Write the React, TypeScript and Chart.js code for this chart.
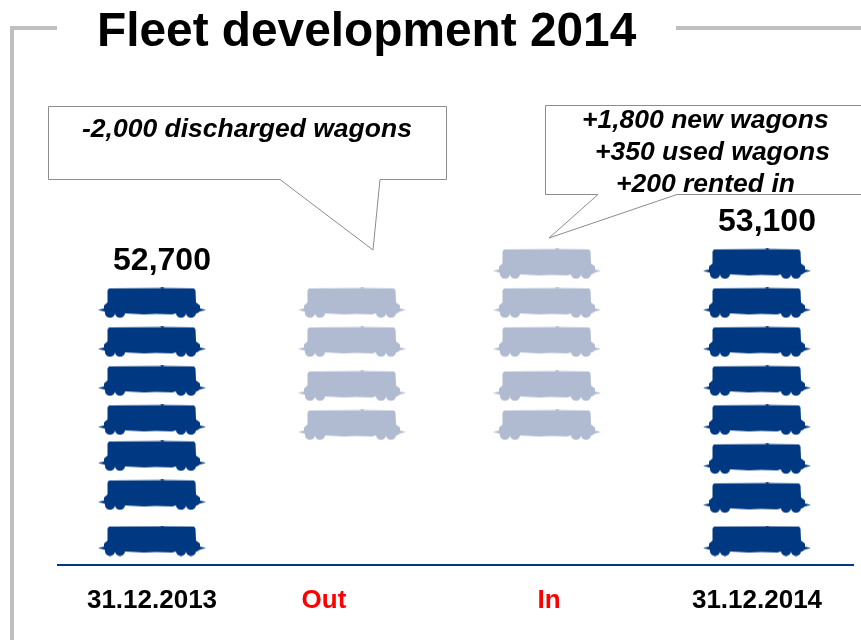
import React, { useEffect, useRef } from "react";
import { Chart, registerables } from "chart.js";

Chart.register(...registerables);

// Axis labels and where they sit along the fleet-flow axis
const tickLabels = ["31.12.2013", "Out", "In", "31.12.2014"];
const tickPositions = [0, 0.86, 1.985, 3.025];
const tickColors = ["#000000", "#ff0000", "#ff0000", "#000000"];

// Column positions of each wagon stack
const openingColumn = 0;
const outColumn = 1;
const inColumn = 1.975;
const closingColumn = 3.025;

// Stack heights of the wagon icons, in rows above the baseline
const openingRows = [0.615, 1.795, 2.795, 3.72, 4.72, 5.72, 6.72];
const outRows = [3.59, 4.59, 5.72, 6.72];
const inRows = [3.59, 4.59, 5.72, 6.72, 7.72];
const closingRows = [0.615, 1.72, 2.72, 3.72, 4.72, 5.72, 6.72, 7.72];

// Fleet totals printed above the two year-end stacks
const openingTotal = "52,700";
const closingTotal = "53,100";

const chartTitle = "Fleet development 2014";
const outNotes = ["-2,000 discharged wagons"];
const inNotes = ["+1,800 new wagons", "+350 used wagons", "+200 rented in"];

const NAVY = "#003882";
const PALE = "#b0bbd1";
const FONT = '"Liberation Sans", Arial, sans-serif';

// Tank wagon silhouette used as the point marker
function wagonIcon(color: string): HTMLCanvasElement {
  const c = document.createElement("canvas");
  c.width = 108;
  c.height = 31;
  const g = c.getContext("2d")!;
  g.fillStyle = color;
  g.beginPath();
  g.moveTo(11, 1);
  g.lineTo(62, 0.8);
  g.lineTo(64, 0);
  g.lineTo(67, 0.8);
  g.lineTo(96, 1);
  g.lineTo(97.5, 3);
  g.lineTo(98, 15);
  g.lineTo(102, 18);
  g.lineTo(102, 21);
  g.lineTo(108, 22.5);
  g.lineTo(102, 24);
  g.lineTo(99, 26);
  g.lineTo(78, 26);
  g.lineTo(74, 27);
  g.lineTo(58, 26.5);
  g.lineTo(46, 27);
  g.lineTo(28, 26);
  g.lineTo(9, 26);
  g.lineTo(6, 24);
  g.lineTo(0, 22.5);
  g.lineTo(6, 21);
  g.lineTo(6, 18);
  g.lineTo(9.5, 15);
  g.lineTo(9.5, 3);
  g.closePath();
  g.fill();
  for (const wheelX of [12, 22, 83, 93]) {
    g.beginPath();
    g.arc(wheelX, 25.5, 5, 0, Math.PI * 2);
    g.fill();
  }
  return c;
}

// Frame, heading and the two speech-bubble notes behind the wagons
const slideDecor = {
  id: "slideDecor",
  beforeDraw(chart: Chart) {
    const { ctx } = chart;
    ctx.save();
    ctx.strokeStyle = "#bfbfbf";
    ctx.lineWidth = 4;
    ctx.beginPath();
    ctx.moveTo(57, 28);
    ctx.lineTo(12, 28);
    ctx.lineTo(12, 640);
    ctx.moveTo(676, 28);
    ctx.lineTo(861, 28);
    ctx.stroke();

    ctx.fillStyle = "#000";
    ctx.textBaseline = "alphabetic";
    ctx.textAlign = "left";
    ctx.font = `bold 47.8px ${FONT}`;
    ctx.fillText(chartTitle, 97, 46);

    ctx.strokeStyle = "#8c8c8c";
    ctx.lineWidth = 1;
    ctx.beginPath();
    ctx.moveTo(446.5, 106.5);
    ctx.lineTo(48.5, 106.5);
    ctx.lineTo(48.5, 179.5);
    ctx.lineTo(280, 179.5);
    ctx.lineTo(373, 250);
    ctx.lineTo(380, 179.5);
    ctx.lineTo(446.5, 179.5);
    ctx.closePath();
    ctx.stroke();

    ctx.beginPath();
    ctx.moveTo(861, 105.5);
    ctx.lineTo(545.5, 105.5);
    ctx.lineTo(545.5, 194.5);
    ctx.lineTo(598, 194.5);
    ctx.lineTo(549, 238);
    ctx.lineTo(677, 194.5);
    ctx.lineTo(861, 194.5);
    ctx.stroke();

    ctx.fillStyle = "#000";
    ctx.font = `italic bold 26.5px ${FONT}`;
    ctx.textBaseline = "middle";
    ctx.fillText(outNotes[0], 82, 130);
    const inNoteX = [582, 595, 616];
    inNotes.forEach((note, i) => ctx.fillText(note, inNoteX[i], 121 + i * 32));
    ctx.restore();
  },
  // Totals sit just above the top wagon of their stack
  afterDatasetsDraw(chart: Chart) {
    const { ctx } = chart;
    const yearEnd = chart.getDatasetMeta(0).data;
    const tops = [
      { point: yearEnd[openingRows.length - 1], text: openingTotal },
      { point: yearEnd[yearEnd.length - 1], text: closingTotal },
    ];
    ctx.save();
    ctx.fillStyle = "#000";
    ctx.font = `bold 32px ${FONT}`;
    ctx.textAlign = "center";
    ctx.textBaseline = "middle";
    for (const { point, text } of tops) {
      ctx.fillText(text, point.x + 10, point.y - 42);
    }
    ctx.restore();
  },
};

export default function App() {
  const canvasRef = useRef<HTMLCanvasElement>(null);

  useEffect(() => {
    document.body.style.margin = "0";
    const chart = new Chart(canvasRef.current!, {
      type: "scatter",
      data: {
        datasets: [
          {
            label: "Fleet at year end",
            data: [
              ...openingRows.map((y) => ({ x: openingColumn, y })),
              ...closingRows.map((y) => ({ x: closingColumn, y })),
            ],
            pointStyle: wagonIcon(NAVY),
            pointRadius: 20,
            clip: false,
          },
          {
            label: "Wagons out and in",
            data: [
              ...outRows.map((y) => ({ x: outColumn, y })),
              ...inRows.map((y) => ({ x: inColumn, y })),
            ],
            pointStyle: wagonIcon(PALE),
            pointRadius: 20,
            clip: false,
          },
        ],
      },
      options: {
        responsive: false,
        animation: false,
        layout: { autoPadding: false, padding: { left: 58, right: 8, top: 0, bottom: 0 } },
        plugins: { legend: { display: false }, tooltip: { enabled: false } },
        scales: {
          x: {
            type: "linear",
            min: -0.47,
            max: 3.505,
            grid: { display: false, drawTicks: false },
            border: { display: true, color: NAVY, width: 2 },
            afterBuildTicks(axis) {
              axis.ticks = tickPositions.map((value) => ({ value }));
            },
            afterFit(axis) {
              axis.height = 75;
              axis.paddingLeft = 0;
              axis.paddingRight = 0;
            },
            ticks: {
              autoSkip: false,
              maxRotation: 0,
              padding: 20,
              font: { family: FONT, size: 26, weight: "bold" },
              color: (ctx) => tickColors[ctx.index],
              callback: (_value, index) => tickLabels[index],
            },
          },
          y: { display: false, min: 0, max: 14.487 },
        },
      },
      plugins: [slideDecor],
    });
    return () => chart.destroy();
  }, []);

  return <canvas ref={canvasRef} width={861} height={640} style={{ display: "block" }} />;
}
